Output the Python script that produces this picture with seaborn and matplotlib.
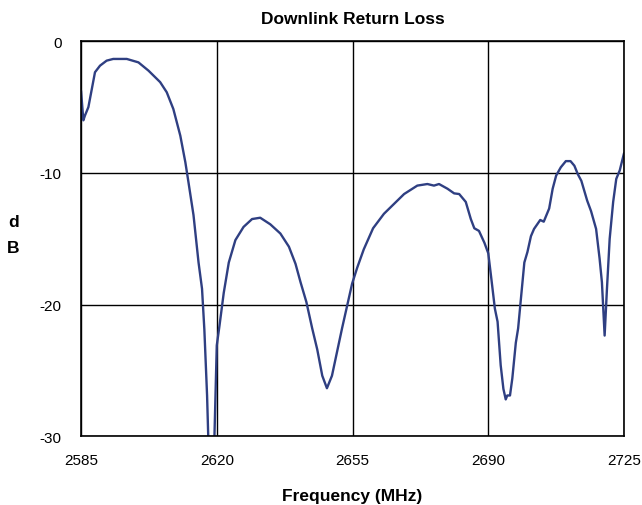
import matplotlib
matplotlib.use("Agg")
import matplotlib.pyplot as plt
import seaborn as sns
import pandas as pd

# Measured downlink return loss sweep
freq_mhz = [
    2585.0, 2585.6, 2586.0, 2586.9, 2587.8, 2588.6, 2589.9, 2591.6, 2593.3, 2596.8,
    2599.8, 2602.4, 2605.4, 2607.1, 2608.8, 2610.6, 2611.9, 2612.7, 2614.0, 2615.3,
    2616.2, 2616.8, 2617.5, 2617.8, 2618.6, 2619.4, 2620.0, 2620.7, 2621.8, 2623.1,
    2624.8, 2626.9, 2629.1, 2631.2, 2633.8, 2636.4, 2638.6, 2640.3, 2641.6, 2643.1,
    2644.6, 2645.9, 2647.2, 2648.4, 2649.7, 2651.0, 2652.3, 2653.6, 2654.9, 2656.2,
    2657.9, 2660.3, 2663.1, 2665.7, 2668.3, 2671.7, 2674.3, 2676.0, 2677.3, 2679.5,
    2681.2, 2682.5, 2684.2, 2685.5, 2686.4, 2687.6, 2689.0, 2690.0, 2690.8, 2691.7,
    2692.4, 2693.2, 2693.9, 2694.5, 2694.9, 2695.6, 2696.2, 2697.1, 2697.7, 2698.4,
    2699.3, 2700.1, 2701.0, 2701.8, 2703.4, 2704.3, 2705.7, 2706.6, 2707.5, 2708.7,
    2710.0, 2711.2, 2712.2, 2713.1, 2714.0, 2715.5, 2716.5, 2717.8, 2718.7, 2719.3,
    2720.0, 2720.6, 2721.3, 2722.2, 2723.0, 2723.9, 2725.0,
]
return_loss_db = [
    -3.75, -6.0, -5.65, -5.0, -3.6, -2.35, -1.85, -1.47, -1.34, -1.34,
    -1.6, -2.23, -3.1, -3.87, -5.14, -7.17, -9.19, -10.7, -13.2, -16.8,
    -18.8, -21.9, -26.9, -30.0, -34.0, -30.0, -23.1, -21.6, -19.1, -16.8,
    -15.1, -14.1, -13.5, -13.4, -13.9, -14.6, -15.6, -16.9, -18.3, -19.8,
    -21.8, -23.4, -25.4, -26.35, -25.4, -23.6, -21.8, -20.1, -18.4, -17.2,
    -15.8, -14.2, -13.1, -12.35, -11.6, -10.96, -10.84, -10.96, -10.84, -11.2,
    -11.55, -11.6, -12.2, -13.5, -14.2, -14.4, -15.3, -16.1, -18.05, -20.3,
    -21.3, -24.6, -26.4, -27.2, -26.9, -26.9, -25.6, -22.9, -21.8, -19.6,
    -16.8, -16.0, -14.8, -14.25, -13.57, -13.7, -12.7, -11.2, -10.2, -9.57,
    -9.1, -9.1, -9.45, -10.1, -10.6, -12.1, -12.9, -14.25, -16.5, -18.3,
    -22.35, -18.8, -15.0, -12.2, -10.45, -9.8, -8.5,
]
x_ticks = [2585, 2620, 2655, 2690, 2725]
y_ticks = [0, -10, -20, -30]

df = pd.DataFrame({"Frequency (MHz)": freq_mhz, "dB": return_loss_db})

sns.set_style("white")
plt.rcParams["font.family"] = ["Liberation Sans", "DejaVu Sans"]
plt.rcParams["text.color"] = "black"
plt.rcParams["axes.labelcolor"] = "black"
plt.rcParams["xtick.color"] = "black"
plt.rcParams["ytick.color"] = "black"

fig = plt.figure(figsize=(6.42, 5.06), dpi=100)
ax = fig.add_axes([0.1262, 0.1358, 0.8458, 0.7806])

sns.lineplot(data=df, x="Frequency (MHz)", y="dB", ax=ax,
             color="#2F3F82", linewidth=1.7, sort=False)

ax.set_xlim(2585, 2725)
ax.set_ylim(-30, 0)
ax.set_xticks(x_ticks)
ax.set_yticks(y_ticks)
ax.set_xticklabels([str(t) for t in x_ticks], fontsize=11)
ax.set_yticklabels([str(t) for t in y_ticks], fontsize=11)
ax.tick_params(axis="x", length=0, pad=12)
ax.tick_params(axis="y", length=0, pad=14)

ax.grid(True, color="black", linewidth=1.0)
ax.set_axisbelow(True)
for s in ax.spines.values():
    s.set_visible(True)
    s.set_color("black")
    s.set_linewidth(1.2)

ax.set_title("Downlink Return Loss", fontsize=12.5, fontweight="bold", pad=13)
ax.set_xlabel("Frequency (MHz)", fontsize=12.5, fontweight="bold", labelpad=15)
ax.set_ylabel("d\nB", fontsize=12.5, fontweight="bold", rotation=0,
              va="center", ha="center", linespacing=1.9)
ax.yaxis.set_label_coords(-0.125, 0.51)

fig.savefig("out.png", dpi=100, facecolor="white")
